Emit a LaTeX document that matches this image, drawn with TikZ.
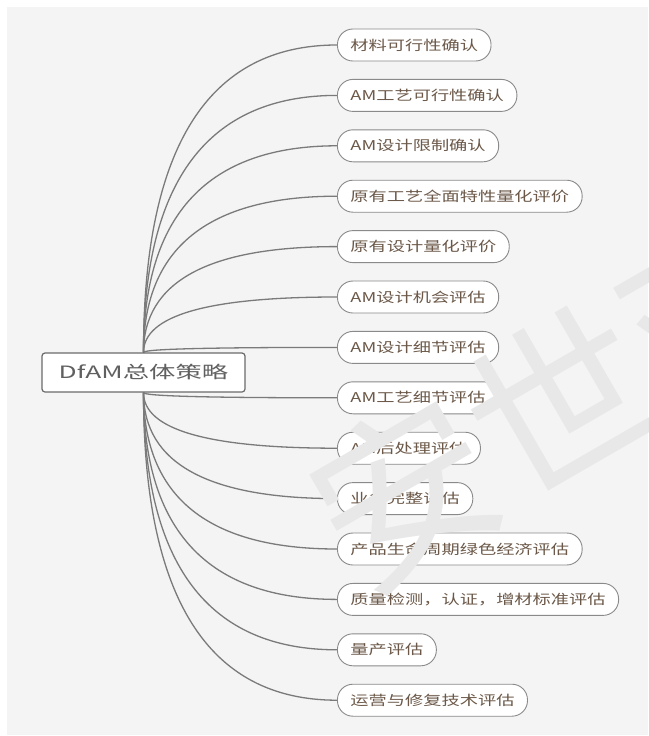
\documentclass[tikz,border=0pt]{standalone}
\usepackage{graphicx}
\usepackage{fontspec}
\newfontfamily\cjkfont{Noto Sans CJK SC}
\usetikzlibrary{calc}
\definecolor{panel}{HTML}{F4F4F4}
\definecolor{linkgray}{HTML}{7A7A7A}
\definecolor{leafline}{HTML}{8A8A8A}
\definecolor{leafink}{HTML}{6B5848}
\definecolor{rootline}{HTML}{6A6A6A}
\definecolor{rootink}{HTML}{606060}
\definecolor{wmgray}{HTML}{E8E8E8}
% horizontally widened labels
\newcommand\widelabel[1]{\scalebox{1.35}[1]{#1}}
\newcommand\wideroot[1]{\scalebox{1.55}[1]{#1}}
\pgfdeclarelayer{bg}
\pgfdeclarelayer{edges}
\pgfdeclarelayer{wm}
\pgfsetlayers{bg,edges,main,wm}
\begin{document}
\begin{tikzpicture}[x=1pt,y=-1pt,
  leaf/.style={draw=leafline, fill=white, line width=0.9pt,
    rounded corners=15.5pt, minimum height=32pt, inner xsep=13pt,
    inner ysep=0pt, anchor=west, text=leafink,
    font=\cjkfont\fontsize{13.5}{16}\selectfont},
  rootbox/.style={draw=rootline, fill=white, line width=1.2pt,
    rounded corners=3pt, minimum width=203pt, minimum height=39pt,
    inner sep=0pt, text=rootink,
    font=\cjkfont\fontsize{17}{20}\selectfont},
  link/.style={draw=linkgray, line width=1.3pt},
  wmstyle/.style={rotate=30, anchor=west, inner sep=0pt, text=wmgray,
    font=\cjkfont\fontsize{180}{180}\selectfont}]
\useasboundingbox (0,0) rectangle (648,736);
\begin{pgfonlayer}{bg}
  \fill[white] (0,0) rectangle (648,736);
  \fill[panel] (7,7) rectangle (648,735);
\end{pgfonlayer}

% central topic
\node[rootbox] (root) at (143.5,372.5) {\wideroot{DfAM总体策略}};

% subtopics
\foreach \t [count=\i from 0] in {
  材料可行性确认,
  AM工艺可行性确认,
  AM设计限制确认,
  原有工艺全面特性量化评价,
  原有设计量化评价,
  AM设计机会评估,
  AM设计细节评估,
  AM工艺细节评估,
  AM后处理评估,
  业务完整评估,
  产品生命周期绿色经济评估,
  质量检测，认证，增材标准评估,
  量产评估,
  运营与修复技术评估}
  \node[leaf] (l\i) at (337,{45+50.4*\i}) {\widelabel{\t}};

% curved branches from the central topic
\begin{pgfonlayer}{edges}
  \foreach \i in {0,...,6}
    \draw[link] (root.north)
      .. controls ($(root.north)!0.667!(root.north |- l\i.west)$)
      and ($(l\i.west)!0.667!(root.north |- l\i.west)$) .. (l\i.west);
  \foreach \i in {7,...,13}
    \draw[link] (root.south)
      .. controls ($(root.south)!0.667!(root.south |- l\i.west)$)
      and ($(l\i.west)!0.667!(root.south |- l\i.west)$) .. (l\i.west);
\end{pgfonlayer}

% watermark
\begin{pgfonlayer}{wm}
  \node[wmstyle] (wmtext) at (326,537) {安世亚太};
\end{pgfonlayer}
\end{tikzpicture}
\end{document}
